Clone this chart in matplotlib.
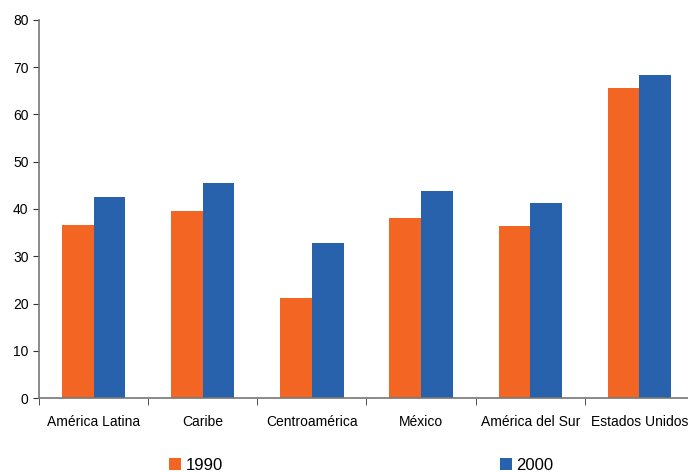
import matplotlib.pyplot as plt
import numpy as np

plt.rcParams['font.family'] = ['Liberation Sans', 'DejaVu Sans']

# Datos
regiones = ['América Latina', 'Caribe', 'Centroamérica', 'México',
            'América del Sur', 'Estados Unidos']
v1990 = [36.6, 39.6, 21.2, 38.1, 36.4, 65.6]
v2000 = [42.5, 45.5, 32.8, 43.8, 41.3, 68.4]

naranja = '#F26522'
azul = '#2862AD'

fig = plt.figure(figsize=(6.88, 4.72), dpi=100)
ax = fig.add_axes([39 / 688, 74 / 472, 655 / 688, 378 / 472])

x = np.arange(len(regiones))
w = 0.29
b1 = ax.bar(x - w / 2, v1990, w, color=naranja, label='1990')
b2 = ax.bar(x + w / 2, v2000, w, color=azul, label='2000')

ax.set_xlim(-0.5, len(regiones) - 0.5)
ax.set_ylim(0, 80)
ax.set_yticks(range(0, 81, 10))
ax.set_xticks(x)
ax.set_xticklabels(regiones, fontsize=10)
ax.set_xticks(np.arange(len(regiones) + 1) - 0.5, minor=True)
ax.tick_params(axis='x', which='major', length=0, pad=12)
ax.tick_params(axis='x', which='minor', length=5, direction='out', color='#333333')
ax.tick_params(axis='y', length=4, direction='out', labelsize=10, color='#333333')

for s in ['top', 'right']:
    ax.spines[s].set_visible(False)
for s in ['left', 'bottom']:
    ax.spines[s].set_color('#777777')
    ax.spines[s].set_linewidth(1.2)

kw = dict(frameon=False, fontsize=12, handlelength=0.75, handleheight=0.75,
          handletextpad=0.25, loc='center left', borderaxespad=0)
fig.legend(handles=[b1], labels=['1990'], bbox_to_anchor=(162 / 688, 7 / 472), **kw)
fig.legend(handles=[b2], labels=['2000'], bbox_to_anchor=(493 / 688, 7 / 472), **kw)

fig.savefig('out.png', dpi=100)
